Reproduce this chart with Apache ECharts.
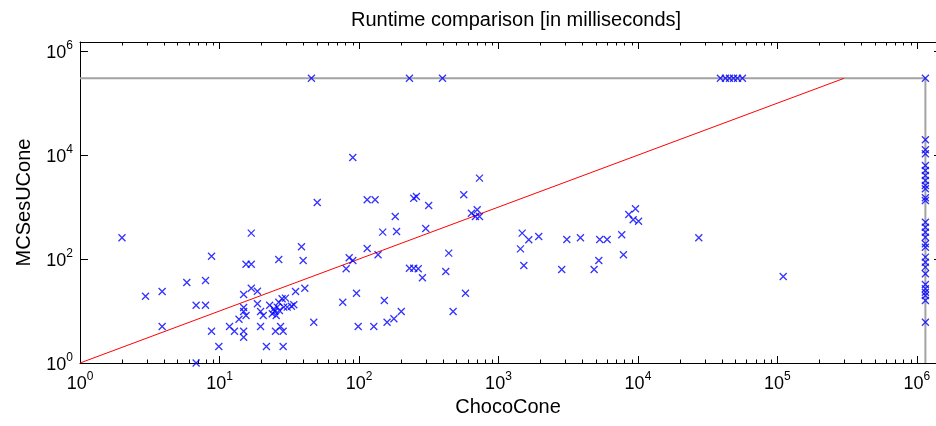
<!DOCTYPE html>
<html>
<head>
<meta charset="utf-8">
<script src="https://cdn.jsdelivr.net/npm/echarts@6/dist/echarts.min.js"></script>
<style>
  html, body { margin: 0; padding: 0; background: #ffffff; }
  #chart { width: 936px; height: 426px; }
</style>
</head>
<body>
<div id="chart"></div>
<script>
// ---- labels ----
const titleText = 'Runtime comparison [in milliseconds]';
const xName = 'ChocoCone';
const yName = 'MCSesUCone';

// ---- axis ranges and timeouts (ms) ----
const axisMin = 1;
const xAxisMax = 1.37e6;
const yAxisMax = 1.5e6;
const timeoutMcs = 3e5;     // MCSesUCone timeout
const timeoutChoco = 1.15e6; // ChocoCone timeout marker

// ---- instances solved by both tools (ms) ----
const chocoMs = [
  2, 2.95, 3.88, 3.88, 5.83, 6.8, 6.8, 7.94, 7.94, 8.77, 8.77, 9.89,
  11.8, 12.8, 13.8, 14.9, 14.9, 14.9, 14.9, 14.9, 15.5, 15.5, 16.9, 16.9, 16.9,
  18.7, 18.7, 19.7, 19.7, 20.6, 21.7, 22.9, 23.9, 24.5, 24.9, 25.2, 25.5, 25.9,
  26.6, 26.6, 26.9, 27.4, 28.1, 28.6, 28.6, 28.9, 29.7, 30.6, 32.8, 34.1, 35.1,
  38.7, 39.8, 40.9, 47.4, 50.2, 76.5, 80.9, 85.1, 90.3, 90.3, 96, 98.7,
  114.5, 114.5, 127.7, 130.5, 137, 148, 152, 159, 178, 182, 186, 201,
  230, 247, 247, 258, 266, 285, 301, 316, 419, 440, 473, 564, 580,
  640, 684, 704, 731, 731, 1438, 1479, 1520, 1650, 1944,
  2840, 3090, 3870, 4850, 5240, 5320, 6010, 7650, 7870, 8590, 9240, 9600, 10100, 27300, 110000
];
const mcsMs = [
  256, 19.3, 23.8, 5.04, 35.4, 12.9, 1, 38.7, 12.9, 113, 4.09, 2.08,
  5.04, 4.09, 6.97, 4.09, 3.14, 20.8, 11.7, 9.8, 8.2, 79.6, 315, 79.6, 27.5,
  24.1, 13.8, 9.8, 5.04, 8.2, 2.08, 12.9, 8.85, 11, 9.8, 4.09, 8.2, 11.9,
  14.8, 98, 10.2, 5.04, 17.2, 4.09, 2.08, 11.9, 17.7, 11.9, 12.4, 13.2, 23.8,
  172, 93.8, 27.5, 6.1, 1225, 14.8, 65, 106, 93.8, 9000, 22, 5.04,
  160, 1380, 5.04, 1380, 121, 330, 16, 6.1, 7.08, 659, 339, 9.8,
  66.7, 66.7, 1483, 1600, 65, 43.6, 387, 1073, 57.6, 130, 9.8, 1722, 22,
  763, 659, 887, 659, 3600, 157, 315, 75.2, 235, 272,
  63, 238, 257, 63, 93.8, 238, 238, 293, 121, 720, 569, 927, 535, 257, 46
];

// ---- MCSesUCone timed out: ChocoCone times (ms) ----
const chocoWhenMcsTimeout = [45.6, 230, 397, 39000, 42400, 45300, 48400, 51700, 56100];
// ---- ChocoCone timed out: MCSesUCone times (ms) ----
const mcsWhenChocoTimeout = [
  19700, 12650, 10600, 6310, 5060, 4055, 3250, 2605, 2250, 1510, 1340,
  512, 410, 329, 263, 197, 169, 109, 87, 70, 52, 32.4, 26.8, 23, 19.9, 16, 6.1
];
// ---- both timed out ----
const bothTimeoutCount = 1;

// ---- log-axis minor tick layout ----
const decadeStarts = [1, 10, 100, 1e3, 1e4, 1e5, 1e6];
const minorMultipliers = [2, 3, 4, 5, 6, 7, 8, 9];

const FONT = '"Liberation Sans", Arial, Helvetica, sans-serif';

const points = chocoMs.map((x, i) => [x, mcsMs[i]]);
chocoWhenMcsTimeout.forEach(x => points.push([x, timeoutMcs]));
mcsWhenChocoTimeout.forEach(y => points.push([timeoutChoco, y]));
for (let i = 0; i < bothTimeoutCount; i++) points.push([timeoutChoco, timeoutMcs]);

const minorTicks = [];
decadeStarts.forEach(d => minorMultipliers.forEach(m => {
  if (m * d < xAxisMax) minorTicks.push(m * d);
}));

const powLabel = v => '{b|10}{s|' + Math.round(Math.log10(v)) + '}';
const labelRich = {
  b: { fontSize: 18, fontFamily: FONT, color: '#000', lineHeight: 22, verticalAlign: 'bottom' },
  s: { fontSize: 12, fontFamily: FONT, color: '#000', lineHeight: 22, verticalAlign: 'top' }
};

const chart = echarts.init(document.getElementById('chart'), null, { renderer: 'canvas' });

chart.setOption({
  animation: false,
  backgroundColor: '#ffffff',
  title: {
    text: titleText,
    left: 511,
    top: 5,
    textAlign: 'center',
    textStyle: { fontFamily: FONT, fontSize: 20, fontWeight: 'normal', color: '#000' }
  },
  grid: { left: 80, top: 42, right: 0, bottom: 63, containLabel: false },
  xAxis: [{
    type: 'log', logBase: 10, min: axisMin, max: xAxisMax, position: 'bottom',
    name: xName, nameLocation: 'middle', nameGap: 32,
    nameTextStyle: { fontFamily: FONT, fontSize: 20, color: '#000' },
    axisLine: { lineStyle: { color: '#000', width: 1 } },
    axisTick: { inside: true, length: 7, lineStyle: { color: '#000' } },
    axisLabel: { formatter: powLabel, rich: labelRich, margin: 8 },
    splitLine: { show: false }
  }, {
    type: 'log', logBase: 10, min: axisMin, max: xAxisMax, position: 'top',
    axisLine: { lineStyle: { color: '#000', width: 1 } },
    axisTick: { inside: true, length: 7, lineStyle: { color: '#000' } },
    axisLabel: { show: false },
    splitLine: { show: false }
  }],
  yAxis: [{
    type: 'log', logBase: 10, min: axisMin, max: yAxisMax, interval: 2, position: 'left',
    name: yName, nameLocation: 'middle', nameGap: 46, nameRotate: 90,
    nameTextStyle: { fontFamily: FONT, fontSize: 20, color: '#000' },
    axisLine: { lineStyle: { color: '#000', width: 1 } },
    axisTick: { inside: true, length: 8, lineStyle: { color: '#000' } },
    axisLabel: { formatter: powLabel, rich: labelRich, margin: 7 },
    splitLine: { show: false }
  }, {
    type: 'log', logBase: 10, min: axisMin, max: yAxisMax, interval: 2, position: 'right',
    axisLine: { show: false },
    axisTick: { inside: true, length: 2, lineStyle: { color: '#000' } },
    axisLabel: { show: false },
    splitLine: { show: false }
  }],
  series: [
    {
      // timeout limits
      type: 'line', xAxisIndex: 0, yAxisIndex: 0, silent: true, symbol: 'none',
      lineStyle: { color: '#a3a3a3', width: 2 },
      data: [[axisMin, timeoutMcs], [timeoutChoco, timeoutMcs], [timeoutChoco, axisMin]],
      z: 1
    },
    {
      // equal runtime diagonal
      type: 'line', xAxisIndex: 0, yAxisIndex: 0, silent: true, symbol: 'none',
      lineStyle: { color: '#ff0000', width: 1 },
      data: [[axisMin, axisMin], [timeoutMcs, timeoutMcs]],
      z: 2
    },
    {
      // log-spaced minor ticks on the bottom and top axes
      type: 'custom', xAxisIndex: 0, yAxisIndex: 0, silent: true, clip: false,
      data: minorTicks,
      encode: { x: 0 },
      renderItem: (params, api) => {
        const cs = params.coordSys;
        const px = Math.round(api.coord([api.value(0), axisMin])[0]) + 0.5;
        const yb = cs.y + cs.height;
        const yt = cs.y;
        return {
          type: 'group',
          children: [
            { type: 'line', shape: { x1: px, y1: yb, x2: px, y2: yb - 3.5 }, style: { stroke: '#000', lineWidth: 1 } },
            { type: 'line', shape: { x1: px, y1: yt, x2: px, y2: yt + 3.5 }, style: { stroke: '#000', lineWidth: 1 } }
          ]
        };
      },
      z: 3
    },
    {
      type: 'scatter', xAxisIndex: 0, yAxisIndex: 0,
      symbol: 'path://M0,0L10,10M10,0L0,10',
      symbolSize: 7,
      itemStyle: { color: 'none', borderColor: '#0000ff', borderWidth: 1.3 },
      data: points,
      z: 4
    }
  ]
});
</script>
</body>
</html>
